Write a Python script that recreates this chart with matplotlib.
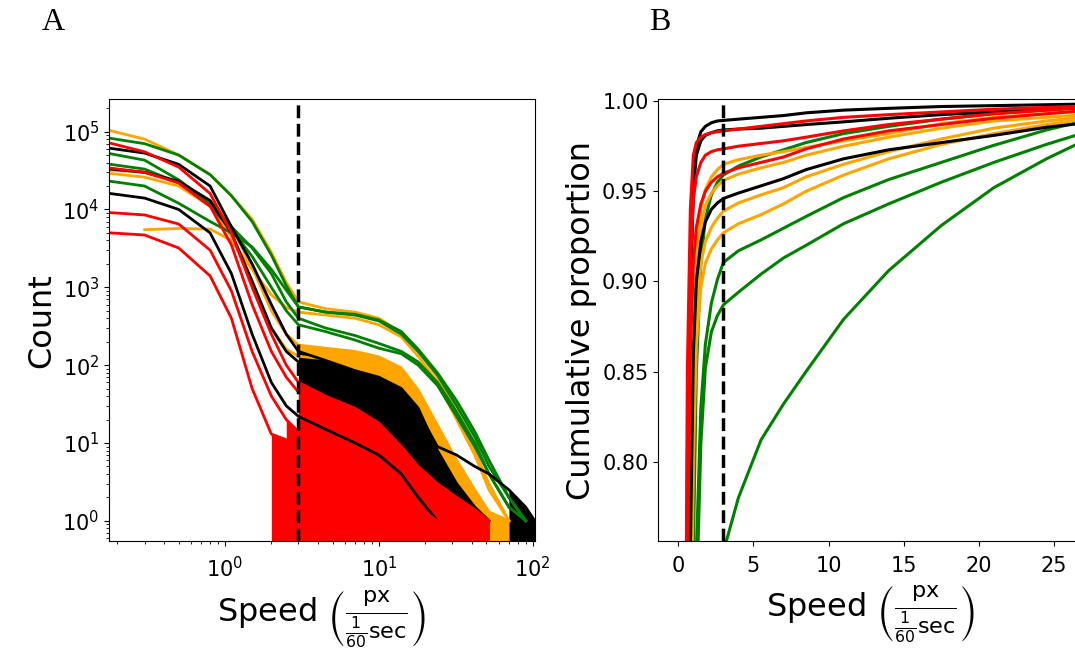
import numpy as np
import matplotlib.pyplot as plt
from matplotlib.ticker import FormatStrFormatter

nan = np.nan

# Panel A: speed histograms (counts at these speeds)
speed_bins = [0.18, 0.3, 0.5, 0.8, 1.1, 1.5, 2.0, 2.5, 3.0, 4.5, 7, 10, 14, 18,
              24, 32, 42, 52, 70, 90, 103]

orange_counts = [
    [1.03e5, 8e4, 5e4, 2.8e4, 1.5e4, 7.5e3, 2.8e3, 1.15e3, 650, 530, 480, 400, 260, 150, 70, 25, 8, 3, 1, nan, nan],
    [3.2e4, 3.0e4, 2.2e4, 1.3e4, 6e3, 1.8e3, 500, 250, 181, 165, 150, 128, 92, 48, 17, 6, 2.5, 1.3, 1, nan, nan],
    [nan, 5.5e3, 5.7e3, 5.6e3, 4e3, 1.7e3, 800, 550, 480, 440, 400, 330, 230, 130, 60, 20, 7, 2.5, 1, nan, nan],
    [2.9e4, 2.6e4, 2.0e4, 1.1e4, 4.5e3, 1.2e3, 300, 160, 130, 120, 105, 90, 65, 35, 12, 4, 1.8, 1, nan, nan, nan],
]
green_counts = [
    [8.2e4, 7e4, 5e4, 2.8e4, 1.5e4, 7e3, 2.6e3, 1.05e3, 560, 480, 450, 380, 270, 160, 80, 35, 14, 6, 2, 1, nan],
    [5.2e4, 4.3e4, 2.4e4, 1.2e4, 6e3, 3.2e3, 1.5e3, 650, 400, 300, 240, 190, 150, 110, 60, 25, 10, 4, 1.5, 1, nan],
    [3.8e4, 3.3e4, 2.2e4, 1.1e4, 5.5e3, 2.5e3, 1e3, 500, 330, 270, 210, 165, 140, 100, 55, 22, 9, 4, 1.5, nan, nan],
    [2.3e4, 2.0e4, 1.2e4, 7e3, 5e3, 3.3e3, 1.7e3, 920, 560, 480, 440, 370, 250, 150, 75, 30, 12, 5, 2, 1, nan],
]
black_counts = [
    [6.1e4, 5.3e4, 3.8e4, 2e4, 6e3, 2e3, 600, 250, 150, 115, 85, 70, 50, 28, 8, 3, 1.5, 1, nan, nan, nan],
    [3.3e4, 3e4, 2.3e4, 1.3e4, 5e3, 1.2e3, 300, 150, 110, 95, 80, 65, 45, 25, 9, 7, 5, 4, 2.5, 1.5, 1],
    [1.6e4, 1.4e4, 1e4, 5e3, 1.5e3, 250, 60, 30, 22, 15, 10, 7, 4, 2, 1, nan, nan, nan, nan, nan, nan],
]
red_counts = [
    [7.1e4, 5.5e4, 3.5e4, 1.6e4, 5e3, 1e3, 250, 100, 60, 40, 28, 18, 9, 5, 3, 2, 1.4, 1, nan, nan, nan],
    [3.4e4, 3e4, 2.2e4, 1.1e4, 3.5e3, 600, 150, 70, 45, 30, 20, 14, 7, 4, 2, 1.2, 1, nan, nan, nan, nan],
    [9.1e3, 8.5e3, 6.5e3, 3e3, 900, 150, 40, 20, 14, 9, 6, 4, 2.5, 1.5, 1, nan, nan, nan, nan, nan, nan],
    [5e3, 4.7e3, 3.2e3, 1.4e3, 400, 50, 13, 11, 9, 5, 3.5, 2.5, 1.8, 1.3, 1, nan, nan, nan, nan, nan, nan],
]
# speed from which each noisy histogram reaches down to zero counts
orange_tail = [nan, 3.0, nan, 3.0]
green_tail = [nan, nan, nan, nan]
black_tail = [3.0, 70, 3.0]
red_tail = [3.0, 3.0, 2.5, 2.0]

# Panel B: cumulative proportions
cdf_speed = [0.3, 0.6, 0.8, 1.0, 1.2, 1.5, 1.8, 2.2, 2.6, 3, 4, 5.5, 7, 8.5,
             11, 14, 17.5, 21, 24.5, 28]
green_cdf = [
    [0.05, 0.30, 0.55, 0.75, 0.85, 0.910, 0.935, 0.948, 0.955, 0.959, 0.964, 0.969, 0.973, 0.977, 0.982, 0.986, 0.990, 0.993, 0.995, 0.997],
    [0.02, 0.15, 0.35, 0.60, 0.75, 0.830, 0.865, 0.888, 0.901, 0.9105, 0.917, 0.923, 0.9295, 0.936, 0.9465, 0.9565, 0.966, 0.9755, 0.984, 0.991],
    [0.02, 0.12, 0.30, 0.55, 0.72, 0.810, 0.852, 0.872, 0.881, 0.887, 0.894, 0.904, 0.913, 0.920, 0.932, 0.943, 0.955, 0.966, 0.976, 0.985],
    [0.01, 0.03, 0.06, 0.12, 0.20, 0.320, 0.450, 0.590, 0.690, 0.750, 0.780, 0.812, 0.832, 0.850, 0.879, 0.906, 0.931, 0.952, 0.968, 0.982],
]
orange_cdf = [
    [0.10, 0.45, 0.72, 0.86, 0.915, 0.940, 0.951, 0.958, 0.962, 0.965, 0.9675, 0.970, 0.972, 0.9743, 0.978, 0.982, 0.9875, 0.991, 0.993, 0.995],
    [0.10, 0.42, 0.70, 0.84, 0.900, 0.930, 0.942, 0.949, 0.953, 0.956, 0.9595, 0.963, 0.966, 0.970, 0.975, 0.980, 0.985, 0.989, 0.991, 0.993],
    [0.10, 0.40, 0.68, 0.82, 0.880, 0.910, 0.922, 0.930, 0.935, 0.939, 0.9435, 0.948, 0.952, 0.958, 0.965, 0.972, 0.979, 0.985, 0.989, 0.992],
    [0.10, 0.38, 0.66, 0.80, 0.865, 0.897, 0.910, 0.918, 0.923, 0.927, 0.932, 0.937, 0.943, 0.950, 0.959, 0.968, 0.976, 0.982, 0.987, 0.991],
]
black_cdf = [
    [0.30, 0.76, 0.90, 0.955, 0.975, 0.983, 0.986, 0.988, 0.989, 0.9893, 0.990, 0.991, 0.992, 0.9935, 0.995, 0.996, 0.997, 0.9975, 0.998, 0.9985],
    [0.28, 0.74, 0.89, 0.950, 0.970, 0.978, 0.981, 0.9825, 0.9835, 0.984, 0.9845, 0.985, 0.986, 0.987, 0.9885, 0.9905, 0.9925, 0.994, 0.9955, 0.997],
    [0.15, 0.55, 0.75, 0.860, 0.900, 0.922, 0.933, 0.940, 0.9435, 0.946, 0.949, 0.953, 0.957, 0.962, 0.968, 0.973, 0.977, 0.981, 0.9855, 0.9888],
]
red_cdf = [
    [0.40, 0.85, 0.94, 0.970, 0.977, 0.980, 0.9815, 0.9825, 0.983, 0.9835, 0.9845, 0.986, 0.9875, 0.989, 0.991, 0.9925, 0.994, 0.9955, 0.9965, 0.9975],
    [0.35, 0.80, 0.91, 0.945, 0.958, 0.966, 0.970, 0.972, 0.973, 0.9735, 0.975, 0.9765, 0.978, 0.980, 0.9835, 0.987, 0.990, 0.993, 0.995, 0.997],
    [0.30, 0.74, 0.86, 0.910, 0.930, 0.943, 0.950, 0.955, 0.958, 0.960, 0.963, 0.966, 0.969, 0.9735, 0.979, 0.9835, 0.987, 0.9905, 0.993, 0.9955],
]

threshold = 3.0
xlabel = r'Speed $\left(\frac{\mathrm{px}}{\frac{1}{60}\mathrm{sec}}\right)$'


def draw_hist(ax, counts, tails, color, floor):
    x = np.array(speed_bins)
    for c, t in zip(counts, tails):
        y = np.array(c, dtype=float)
        ok = ~np.isnan(y)
        ax.plot(x[ok], y[ok], color=color, lw=2.0)
        if not np.isnan(t):
            m = ok & (x >= t)
            ax.fill_between(x[m], floor, y[m], color=color, lw=0)


fig = plt.figure(figsize=(10.75, 6.53), dpi=100)

# A
ax1 = fig.add_axes([0.1017, 0.1715, 0.396, 0.6764])
ax1.set_xscale('log')
ax1.set_yscale('log')
floor = 0.3
draw_hist(ax1, orange_counts, orange_tail, 'orange', floor)
draw_hist(ax1, green_counts, green_tail, 'green', floor)
draw_hist(ax1, black_counts, black_tail, 'black', floor)
draw_hist(ax1, red_counts, red_tail, 'red', floor)
ax1.axvline(threshold, color='black', ls='--', lw=2.5)
ax1.set_xlim(0.177, 103.5)
ax1.set_ylim(0.55, 2.6e5)
ax1.set_ylabel('Count', fontsize=23)
ax1.set_xlabel(xlabel, fontsize=23, labelpad=6)
ax1.tick_params(labelsize=15)
ax1.tick_params(axis='x', which='major', pad=7)

# B
ax2 = fig.add_axes([0.6124, 0.1715, 0.396, 0.6764])
for group, color in [(green_cdf, 'green'), (orange_cdf, 'orange'),
                     (black_cdf, 'black'), (red_cdf, 'red')]:
    for c in group:
        ax2.plot(cdf_speed, c, color=color, lw=2.2)
ax2.axvline(threshold, color='black', ls='--', lw=2.5)
ax2.set_xlim(-1.33, 27.0)
ax2.set_ylim(0.756, 1.001)
ax2.set_xticks([0, 5, 10, 15, 20, 25])
ax2.set_yticks([0.80, 0.85, 0.90, 0.95, 1.00])
ax2.yaxis.set_major_formatter(FormatStrFormatter('%.2f'))
ax2.set_ylabel('Cumulative proportion', fontsize=23)
ax2.set_xlabel(xlabel, fontsize=23, labelpad=6)
ax2.tick_params(labelsize=15)
ax2.tick_params(axis='x', pad=7)

fig.text(0.050, 0.965, 'A', fontsize=23, family='Liberation Serif',
         ha='center', va='center')
fig.text(0.614, 0.965, 'B', fontsize=23, family='Liberation Serif',
         ha='center', va='center')

fig.savefig('out.png', dpi=100)
